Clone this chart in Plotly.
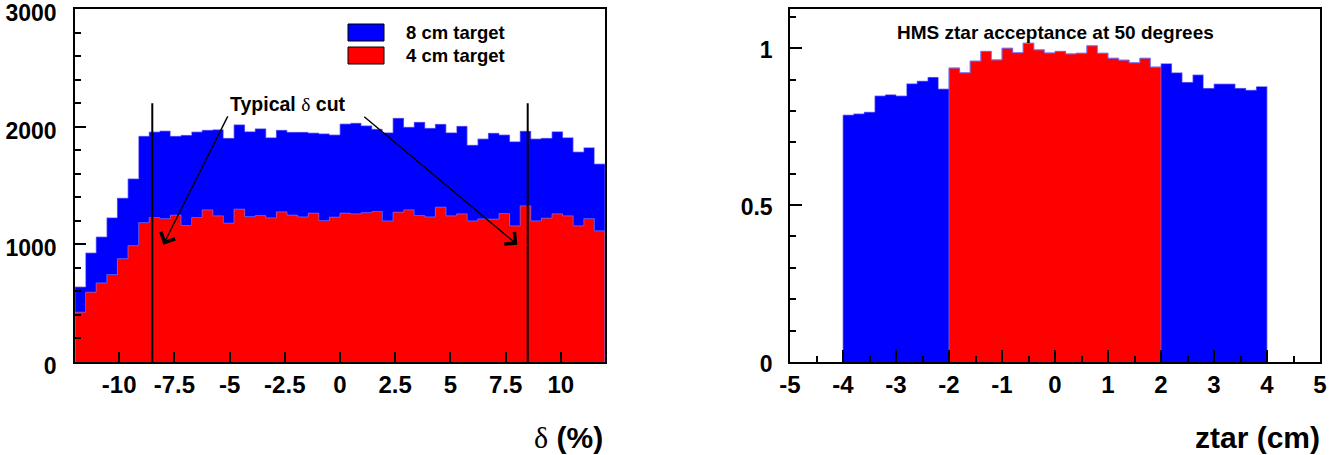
import numpy as np
import plotly.graph_objects as go

# ---- delta distributions (counts per bin), 50 bins over -12..12 % ----
delta_lo, delta_hi, n_delta = -12.0, 12.0, 50
counts_8cm = [638, 927, 1063, 1226, 1392, 1557, 1918, 1955, 1963, 1918,
              1926, 1955, 1969, 1975, 1901, 2017, 1958, 1983, 1907, 1969,
              1952, 1952, 1946, 1940, 1930, 2023, 2029, 2008, 1978, 1949,
              2071, 1995, 2037, 1986, 2020, 1949, 2003, 1842, 1896, 1944,
              1930, 1873, 1961, 1896, 1901, 1958, 1907, 1785, 1822, 1683]
counts_4cm = [423, 593, 672, 743, 879, 989, 1185, 1228, 1219, 1248,
              1160, 1228, 1293, 1242, 1180, 1299, 1236, 1245, 1225, 1276,
              1248, 1233, 1265, 1202, 1231, 1265, 1259, 1270, 1279, 1199,
              1273, 1293, 1245, 1233, 1316, 1242, 1259, 1199, 1216, 1214,
              1262, 1157, 1327, 1199, 1222, 1259, 1242, 1157, 1219, 1115]
delta_cut = 8.5
cut_line_top = 2200

# ---- ztar acceptance, 40 bins over -4..4 cm ----
ztar_lo, ztar_hi, n_ztar = -4.0, 4.0, 40
acceptance = [0.787, 0.791, 0.796, 0.848, 0.852, 0.848, 0.887, 0.895, 0.907, 0.870,
              0.937, 0.922, 0.959, 0.990, 0.963, 1.000, 0.986, 1.016, 0.995, 0.985,
              0.990, 0.982, 0.984, 1.008, 0.984, 0.968, 0.962, 0.954, 0.968, 0.940,
              0.951, 0.922, 0.891, 0.915, 0.872, 0.886, 0.886, 0.872, 0.866, 0.878]
short_target_half = 2.0

delta_ticks = [-10, -7.5, -5, -2.5, 0, 2.5, 5, 7.5, 10]
delta_ticktext = ["-10", "-7.5", "-5", "-2.5", "0", "2.5", "5", "7.5", "10"]
count_ticks = [0, 1000, 2000, 3000]
ztar_ticks = [-5, -4, -3, -2, -1, 0, 1, 2, 3, 4, 5]
ztar_ticktext = ["-5", "-4", "-3", "-2", "-1", "0", "1", "2", "3", "4", "5"]

BLUE, RED = "#0000ff", "#ff0000"
EDGE = "rgba(120,110,240,0.75)"
FONT = "Liberation Sans"
W, H = 1344, 455


def px_x(p):
    return p / W


def px_y(p):
    return 1 - p / H


def hist_traces(edges, vals, color, xa, ya):
    edges = np.asarray(edges)
    vals = np.asarray(vals, dtype=float)
    centers = 0.5 * (edges[:-1] + edges[1:])
    width = edges[1] - edges[0]
    bar = go.Bar(x=centers, y=vals, width=width, marker=dict(color=color, line=dict(width=0)),
                 xaxis=xa, yaxis=ya, showlegend=False, hoverinfo="skip")
    sy = np.concatenate([[0], vals, [0]])
    sx = np.concatenate([[edges[0]], edges])
    step = go.Scatter(x=sx, y=sy, mode="lines", line=dict(color=EDGE, width=1, shape="hv"),
                      xaxis=xa, yaxis=ya, showlegend=False, hoverinfo="skip")
    return [bar, step]


delta_edges = np.linspace(delta_lo, delta_hi, n_delta + 1)
ztar_edges = np.linspace(ztar_lo, ztar_hi, n_ztar + 1)
ztar_centers = 0.5 * (ztar_edges[:-1] + ztar_edges[1:])
inner = np.abs(ztar_centers) < short_target_half
inner_edges = ztar_edges[np.concatenate([inner, [False]]) | np.concatenate([[False], inner])]
inner_vals = np.asarray(acceptance)[inner]

fig = go.Figure()
for t in hist_traces(delta_edges, counts_8cm, BLUE, "x", "y"):
    fig.add_trace(t)
for t in hist_traces(delta_edges, counts_4cm, RED, "x", "y"):
    fig.add_trace(t)
for t in hist_traces(ztar_edges, acceptance, BLUE, "x2", "y2"):
    fig.add_trace(t)
for t in hist_traces(inner_edges, inner_vals, RED, "x2", "y2"):
    fig.add_trace(t)

# delta cut lines
for c in (-delta_cut, delta_cut):
    fig.add_shape(type="line", xref="x", yref="y", x0=c, x1=c, y0=0, y1=cut_line_top,
                  line=dict(color="black", width=2))

bold = dict(family=FONT, color="black", weight="bold")
axis_common = dict(showgrid=False, zeroline=False, showline=True, mirror=True, automargin=False,
                   linecolor="black", linewidth=1.5, ticks="inside", tickcolor="black",
                   tickwidth=1.5, ticklabeloverflow="allow")
x_font = dict(size=24, **bold)
y_font = dict(size=23, **bold)

fig.update_layout(
    width=W, height=H, autosize=False, margin=dict(l=0, r=0, t=0, b=0, pad=0),
    paper_bgcolor="white", plot_bgcolor="white",
    barmode="overlay", bargap=0, showlegend=False,
    xaxis=dict(domain=[px_x(75), px_x(605)], range=[delta_lo, delta_hi],
               tickmode="array", tickvals=delta_ticks, ticktext=delta_ticktext,
               ticklen=10, ticklabelstandoff=0, anchor="y", tickfont=x_font, **axis_common),
    yaxis=dict(domain=[px_y(362), px_y(9)], range=[0, 3000.3],
               tickmode="array", tickvals=count_ticks,
               ticklen=11, ticklabelstandoff=12, ticklabelshift=4, anchor="x", tickfont=y_font,
               minor=dict(dtick=200, ticklen=6, ticks="inside", tickcolor="black", tickwidth=1.5),
               **axis_common),
    xaxis2=dict(domain=[px_x(790), px_x(1320)], range=[-5, 5],
                tickmode="array", tickvals=ztar_ticks, ticktext=ztar_ticktext,
                ticklen=12, ticklabelstandoff=0, anchor="y2", tickfont=x_font,
                minor=dict(dtick=0.5, ticklen=6, ticks="inside", tickcolor="black", tickwidth=1.5),
                **axis_common),
    yaxis2=dict(domain=[px_y(362), px_y(9)], range=[0, 1.125],
                tickmode="array", tickvals=[0, 0.5, 1], ticktext=["0", "0.5", "1"],
                ticklen=12, ticklabelstandoff=11, ticklabelshift=2, anchor="x2", tickfont=y_font,
                minor=dict(dtick=0.1, ticklen=6, ticks="inside", tickcolor="black", tickwidth=1.5),
                **axis_common),
)

delta_sym = "<span style='font-family:Liberation Serif;font-weight:normal'>δ</span>"

# legend boxes and labels
for (y0, y1, col, label) in [(24, 41, BLUE, "8 cm target"), (47, 64, RED, "4 cm target")]:
    fig.add_shape(type="rect", xref="paper", yref="paper",
                  x0=px_x(348), x1=px_x(384), y0=px_y(y1), y1=px_y(y0),
                  fillcolor=col, line=dict(color="black", width=1))
    fig.add_annotation(xref="paper", yref="paper", x=px_x(404), y=px_y((y0 + y1) / 2),
                       xanchor="left", yanchor="middle", text=label, showarrow=False,
                       font=dict(size=18.5, **bold))

# cut label and arrows
fig.add_annotation(xref="x", yref="y", x=-2.35, y=2190, text=f"Typical {delta_sym} cut",
                   showarrow=False, xanchor="center", yanchor="middle",
                   font=dict(size=19.5, **bold))
for (tip, start) in [((-8.0, 997), (-5.05, 2100)), ((8.03, 997), (1.03, 2095))]:
    fig.add_annotation(xref="x", yref="y", axref="x", ayref="y",
                       x=tip[0], y=tip[1], ax=start[0], ay=start[1], text="",
                       showarrow=True, arrowhead=4, arrowsize=2.2, arrowwidth=1.4,
                       arrowcolor="black", standoff=0, startstandoff=0)

# right panel title
fig.add_annotation(xref="x2", yref="y2", x=0, y=1.05, text="HMS ztar acceptance at 50 degrees",
                   showarrow=False, xanchor="center", yanchor="middle",
                   font=dict(size=19, **bold))

# axis titles
fig.add_annotation(xref="paper", yref="paper", x=px_x(605), y=px_y(437),
                   text=f"{delta_sym} (%)", showarrow=False, xanchor="right", yanchor="middle",
                   font=dict(size=30, **bold))
fig.add_annotation(xref="paper", yref="paper", x=px_x(1322), y=px_y(437),
                   text="ztar (cm)", showarrow=False, xanchor="right", yanchor="middle",
                   font=dict(size=30, **bold))

fig.write_html("out.html", config={"responsive": False},
               post_script="document.body.style.margin='0px';")
